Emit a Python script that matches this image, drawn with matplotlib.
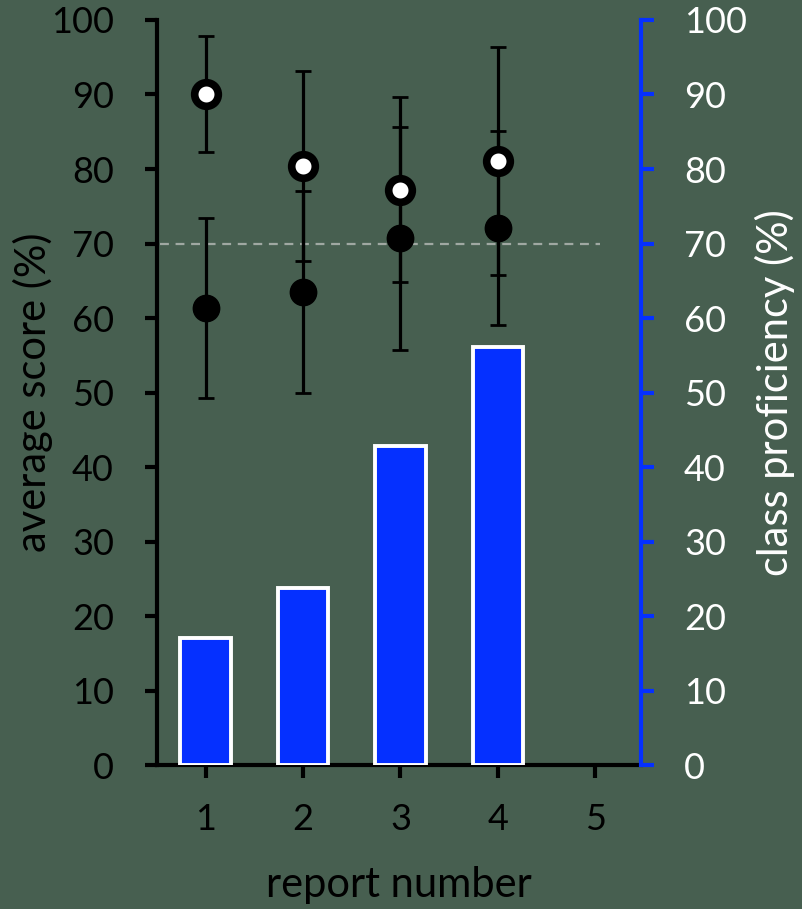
import numpy as np
import matplotlib.pyplot as plt

# Report scores and class proficiency
reports = [1, 2, 3, 4]
top_score = [90.1, 80.4, 77.2, 81.1]
top_err = [7.8, 12.7, 12.4, 15.3]
avg_score = [61.3, 63.5, 70.7, 72.1]
avg_err = [12.1, 13.6, 15.0, 13.0]
proficiency = [17.0, 23.8, 42.8, 56.1]
target = 70

bg = '#475f50'
blue = '#0530ff'
plt.rcParams['font.family'] = ['Lato', 'DejaVu Sans']

fig = plt.figure(figsize=(8.02, 9.09), dpi=100, facecolor=bg)
ax = fig.add_axes([0.1958, 0.1584, 0.6035, 0.8196])
ax.set_facecolor(bg)
ax2 = ax.twinx()

# Bars of class proficiency on the right axis
ax2.bar(reports, proficiency, width=0.52, color=blue, edgecolor='white',
        linewidth=2.8, zorder=2)

# Target line
ax.plot([0.53, 5.05], [target, target], color='#a0a8a2', lw=1.6,
        ls=(0, (4, 3)), zorder=1)

ax.errorbar(reports, avg_score, yerr=avg_err, fmt='o', color='black',
            ms=19, elinewidth=2.3, capsize=6, capthick=2.0, zorder=3)
ax.errorbar(reports, top_score, yerr=top_err, fmt='o', color='black',
            mfc='white', mec='black', ms=17, elinewidth=2.3,
            capsize=6, capthick=2.0, zorder=3)
# thicker ring on the open markers
ax.plot(reports, top_score, 'o', mfc='white', mec='black', mew=5.5, ms=17,
        zorder=4)

for a in (ax, ax2):
    a.set_xlim(0.5, 5.47)
    a.set_ylim(0, 100)
    a.set_yticks(np.arange(0, 101, 10))
    a.spines['top'].set_visible(False)

ax.set_xticks([1, 2, 3, 4, 5])
ax.spines['left'].set_linewidth(3)
ax.spines['bottom'].set_linewidth(3)
ax.spines['right'].set_visible(False)
ax.tick_params(axis='both', direction='out', length=9, width=3,
               labelsize=26, colors='black')
ax.tick_params(axis='y', pad=22)
ax.tick_params(axis='x', pad=18)

ax2.spines['left'].set_visible(False)
ax2.spines['bottom'].set_visible(False)
ax2.spines['right'].set_color(blue)
ax2.spines['right'].set_linewidth(3)
ax2.tick_params(axis='y', direction='out', length=9, width=3, color=blue,
                labelcolor='white', labelsize=26, pad=22)

ax.set_xlabel('report number', fontsize=30)
ax.set_ylabel('average score (%)', fontsize=30)
ax2.set_ylabel('class proficiency (%)', fontsize=30, color='white')
ax.xaxis.set_label_coords(0.5, -0.136)
ax.yaxis.set_label_coords(-0.214, 0.5)
ax2.yaxis.set_label_coords(1.236, 0.5)

plt.savefig('out.png', dpi=100, facecolor=bg)
